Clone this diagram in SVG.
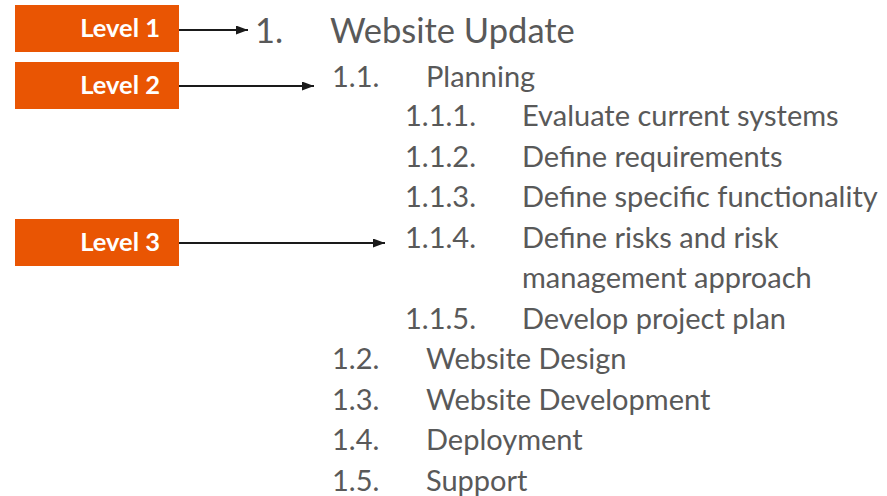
<svg xmlns="http://www.w3.org/2000/svg" width="887" height="496" viewBox="0 0 887 496">
<style>
.box{fill:#E95503}
.lbl{font-family:Lato,"Liberation Sans",sans-serif;font-weight:bold;font-size:25.5px;fill:#fff;text-anchor:end}
.t{font-family:Lato,"Liberation Sans",sans-serif;fill:#595959}
.l1{font-size:34.5px}
.l2{font-size:29px}
.l3{font-size:29px}
.conn{stroke:#1a1a1a;stroke-width:2;fill:none}
</style>
<defs>
<marker id="ah" viewBox="0 0 12 9" refX="12" refY="4.5" markerWidth="12" markerHeight="9" orient="auto" markerUnits="userSpaceOnUse"><path d="M0,0 L12,4.5 L0,9 z" fill="#1a1a1a"/></marker>
</defs>
<rect width="887" height="496" fill="#fff"/>
<g id="level1"><rect class="box" x="15" y="5" width="164" height="47"/><text class="lbl" x="160" y="37">Level 1</text></g>
<g id="level2"><rect class="box" x="15" y="62" width="164" height="47"/><text class="lbl" x="160" y="94">Level 2</text></g>
<g id="level3"><rect class="box" x="15" y="219" width="164" height="47"/><text class="lbl" x="160" y="251">Level 3</text></g>
<g id="connectors">
<line class="conn" x1="179" y1="30" x2="248" y2="30" marker-end="url(#ah)"/>
<line class="conn" x1="179" y1="86" x2="314" y2="86" marker-end="url(#ah)"/>
<line class="conn" x1="179" y1="243" x2="385" y2="243" marker-end="url(#ah)"/>
</g>
<g id="outline" class="t">
<text class="l1" x="255" y="43">1.</text><text class="l1" x="330" y="43">Website Update</text>
<text class="l2" x="332" y="87">1.1.</text><text class="l2" x="426" y="87">Planning</text>
<text class="l3" x="405" y="126">1.1.1.</text><text class="l3" x="522" y="126">Evaluate current systems</text>
<text class="l3" x="405" y="167">1.1.2.</text><text class="l3" x="522" y="167">Define requirements</text>
<text class="l3" x="405" y="207">1.1.3.</text><text class="l3" x="522" y="207">Define specific functionality</text>
<text class="l3" x="405" y="248">1.1.4.</text><text class="l3" x="522" y="248">Define risks and risk</text>
<text class="l3" x="522" y="288">management approach</text>
<text class="l3" x="405" y="329">1.1.5.</text><text class="l3" x="522" y="329">Develop project plan</text>
<text class="l2" x="332" y="369">1.2.</text><text class="l2" x="426" y="369">Website Design</text>
<text class="l2" x="332" y="410">1.3.</text><text class="l2" x="426" y="410">Website Development</text>
<text class="l2" x="332" y="450">1.4.</text><text class="l2" x="426" y="450">Deployment</text>
<text class="l2" x="332" y="491">1.5.</text><text class="l2" x="426" y="491">Support</text>
</g>
</svg>
